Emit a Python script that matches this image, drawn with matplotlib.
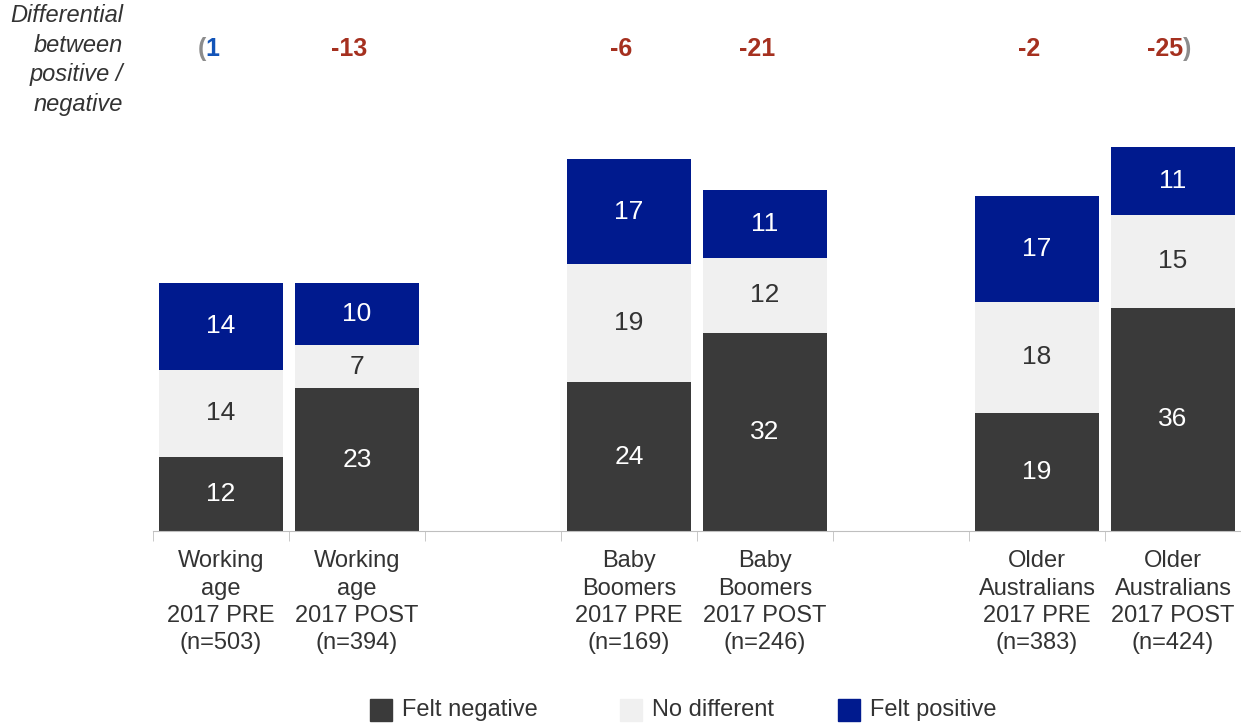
import matplotlib
matplotlib.use("Agg")
import matplotlib.pyplot as plt
from matplotlib.patches import Rectangle
import numpy as np

plt.rcParams['font.family'] = ['Liberation Sans', 'DejaVu Sans']

categories = ["Working\nage\n2017 PRE\n(n=503)", "Working\nage\n2017 POST\n(n=394)", "",
              "Baby\nBoomers\n2017 PRE\n(n=169)", "Baby\nBoomers\n2017 POST\n(n=246)", "",
              "Older\nAustralians\n2017 PRE\n(n=383)", "Older\nAustralians\n2017 POST\n(n=424)"]
felt_negative = [12, 23, None, 24, 32, None, 19, 36]
no_different = [14, 7, None, 19, 12, None, 18, 15]
felt_positive = [14, 10, None, 17, 11, None, 17, 11]
differential = [1, -13, None, -6, -21, None, -2, -25]
series_names = ["Felt negative", "No different", "Felt positive"]

c_neg = "#3a3a3a"
c_mid = "#f0f0f0"
c_pos = "#001a8e"
c_red = "#a5301f"
c_blue = "#1254b8"
c_par = "#8c8c8c"

fig = plt.figure(figsize=(12.41, 7.24), dpi=100)
ax = fig.add_axes([153/1241, (724-531)/724, 1 - 153/1241, (531-97)/724])

x = np.arange(len(categories))
w = 0.91
for i in x:
    if felt_negative[i] is None:
        continue
    n, m, p = felt_negative[i], no_different[i], felt_positive[i]
    ax.bar(i, n, w, color=c_neg)
    ax.bar(i, m, w, bottom=n, color=c_mid)
    ax.bar(i, p, w, bottom=n + m, color=c_pos)
    ax.text(i, n / 2, str(n), ha='center', va='center', color='white', fontsize=19)
    ax.text(i, n + m / 2, str(m), ha='center', va='center', color='#333333', fontsize=19)
    ax.text(i, n + m + p / 2, str(p), ha='center', va='center', color='white', fontsize=19)

ax.set_xlim(-0.5, len(categories) - 0.5)
ax.set_ylim(0, 70)
for s in ['top', 'right', 'left']:
    ax.spines[s].set_visible(False)
ax.spines['bottom'].set_color('#bfbfbf')
ax.set_yticks([])
ax.set_xticks(x)
ax.set_xticklabels(categories, fontsize=17, color='#333333', linespacing=1.3)
ax.tick_params(axis='x', which='major', length=0, pad=14)
ax.set_xticks(np.arange(-0.5, len(categories)), minor=True)
ax.tick_params(axis='x', which='minor', length=7, color='#bfbfbf', direction='out')

# differential row
ydiff = (531 - 49) / 6.2
valid = [i for i in x if differential[i] is not None]
for i in valid:
    d = differential[i]
    col = c_blue if d > 0 else c_red
    ax.annotate(f"{d}", (i, ydiff), xytext=(-6, 0), textcoords='offset points',
                ha='center', va='center', fontsize=18, fontweight='bold', color=col,
                annotation_clip=False)
first, last = valid[0], valid[-1]
ax.annotate("(", (first, ydiff), xytext=(-11, 0), textcoords='offset points',
            ha='right', va='center', fontsize=18, fontweight='bold', color=c_par,
            annotation_clip=False)
ax.annotate(")", (last, ydiff), xytext=(7.5, 0), textcoords='offset points',
            ha='left', va='center', fontsize=18, fontweight='bold', color=c_par,
            annotation_clip=False)

fig.text(123/1241, 1 - 60/724, "Differential\nbetween\npositive /\nnegative",
         ha='right', va='center', fontsize=17, style='italic', color='#333333',
         linespacing=1.37)

# legend
colors = [c_neg, c_mid, c_pos]
lx = [370, 620, 838]
for name, col, px in zip(series_names, colors, lx):
    fig.add_artist(Rectangle((px/1241, 1 - 721/724), 22/1241, 22/724,
                             transform=fig.transFigure, color=col))
    fig.text((px + 32)/1241, 1 - 710/724, name, ha='left', va='center',
             fontsize=17, color='#333333')

fig.savefig("out.png", dpi=100)
